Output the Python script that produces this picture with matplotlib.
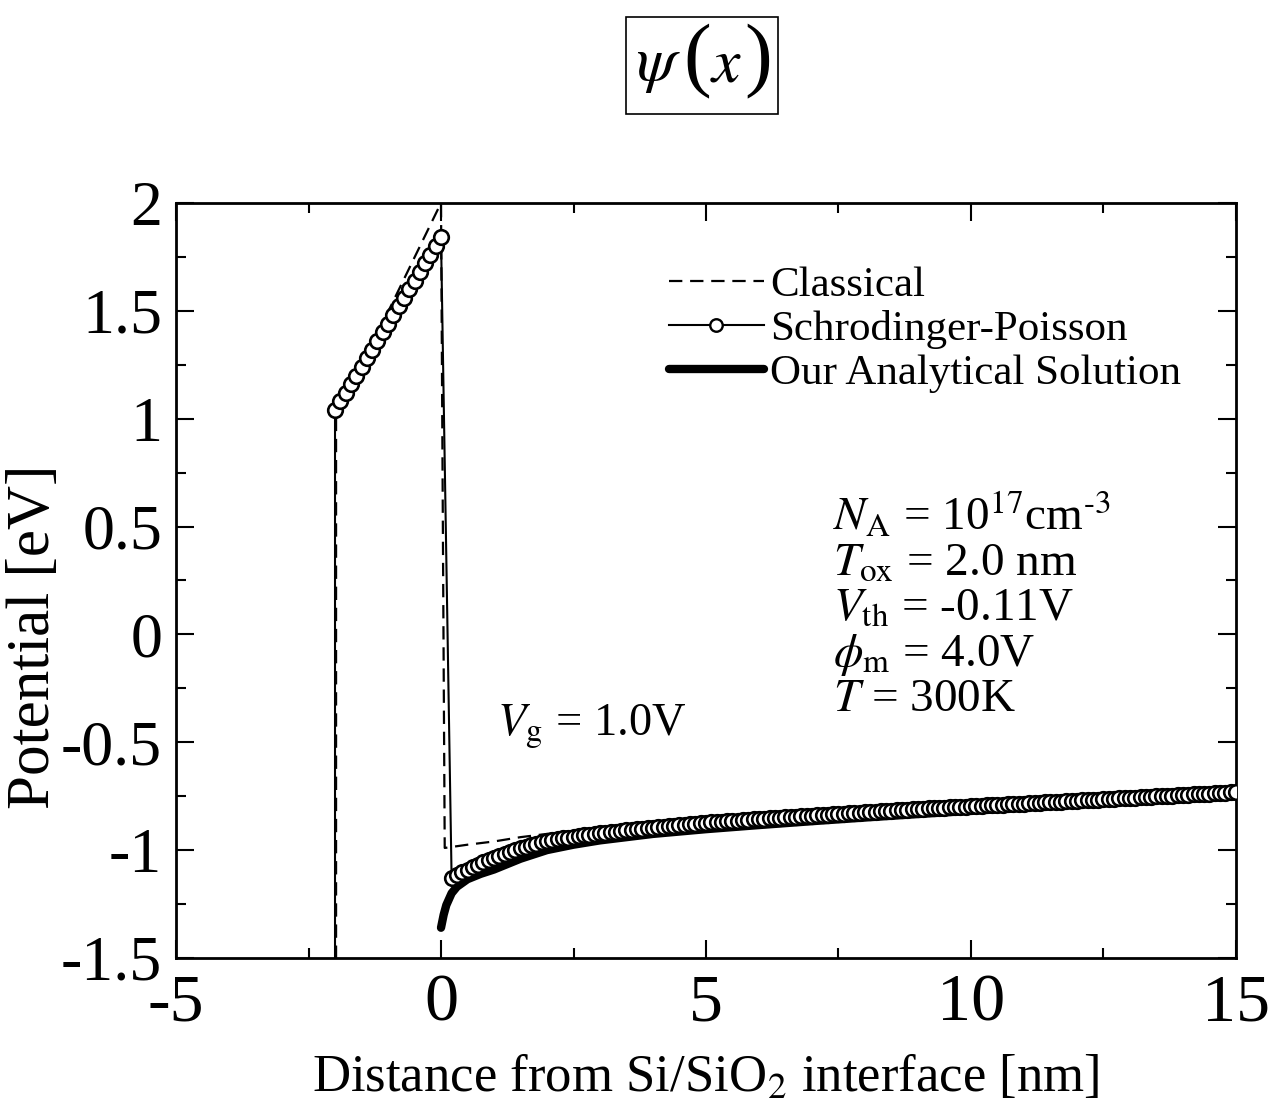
import numpy as np
import matplotlib
matplotlib.use('Agg')
import matplotlib.pyplot as plt
from matplotlib.ticker import MultipleLocator
from matplotlib.lines import Line2D
from matplotlib.patches import Rectangle

plt.rcParams['font.family'] = 'Liberation Serif'
plt.rcParams['mathtext.fontset'] = 'stix'

# Classical (dashed)
cl_x = [-1.98, -1.98, 0.0, 0.07, 0.5, 1.0, 1.5, 2.0, 2.5, 3.0, 4.0, 5.0, 6.0, 8.0, 10.0, 12.0, 15.0]
cl_y = [-1.7, 1.0, 2.0, -0.99, -0.975, -0.96, -0.94, -0.925, -0.912, -0.905, -0.89, -0.87,
        -0.853, -0.822, -0.795, -0.769, -0.731]

# Schrodinger-Poisson: oxide points, then silicon points
sp_ox_x = np.round(np.arange(-2.0, 0.01, 0.1), 1)
sp_ox_y = [1.04, 1.08, 1.12, 1.16, 1.20, 1.24, 1.28, 1.32, 1.36, 1.40, 1.44,
           1.48, 1.52, 1.56, 1.60, 1.64, 1.68, 1.72, 1.76, 1.80, 1.84]
sp_si_x = np.round(np.arange(0.2, 15.05, 0.1), 1)
sp_si_y = [-1.130, -1.115, -1.102, -1.090, -1.078, -1.067, -1.056, -1.045, -1.035,
           -1.026, -1.017, -1.008, -0.999, -0.991, -0.984, -0.977, -0.970, -0.964, -0.958,
           -0.954, -0.950, -0.946, -0.942, -0.938, -0.935, -0.931, -0.928, -0.925, -0.922,
           -0.919, -0.917, -0.914, -0.912, -0.909, -0.907, -0.904, -0.902, -0.899, -0.897,
           -0.895, -0.892, -0.890, -0.888, -0.885, -0.883, -0.881, -0.879, -0.876, -0.874,
           -0.872, -0.870, -0.869, -0.867, -0.865, -0.863, -0.861, -0.860, -0.858, -0.856,
           -0.854, -0.853, -0.851, -0.850, -0.848, -0.846, -0.845, -0.843, -0.842, -0.840,
           -0.838, -0.837, -0.835, -0.834, -0.832, -0.831, -0.829, -0.828, -0.826, -0.825,
           -0.823, -0.822, -0.820, -0.819, -0.817, -0.816, -0.814, -0.813, -0.811, -0.810,
           -0.809, -0.807, -0.806, -0.805, -0.803, -0.802, -0.801, -0.799, -0.798, -0.797,
           -0.796, -0.794, -0.793, -0.792, -0.790, -0.789, -0.788, -0.786, -0.785, -0.784,
           -0.783, -0.781, -0.780, -0.779, -0.777, -0.776, -0.775, -0.773, -0.772, -0.771,
           -0.770, -0.768, -0.767, -0.766, -0.764, -0.763, -0.762, -0.760, -0.759, -0.758,
           -0.757, -0.755, -0.754, -0.753, -0.751, -0.750, -0.749, -0.747, -0.746, -0.745,
           -0.744, -0.742, -0.741, -0.740, -0.738, -0.737, -0.736, -0.734, -0.733, -0.732]

# Our analytical solution (thick)
an_x = [0.0, 0.05, 0.1, 0.2, 0.3, 0.5, 0.75, 1.0, 1.5, 2.0, 2.5, 3.0, 4.0, 5.0, 6.0,
        7.0, 8.0, 9.0, 10.0, 11.0, 12.0, 13.0, 14.0, 15.0]
an_y = [-1.36, -1.30, -1.255, -1.20, -1.17, -1.135, -1.11, -1.09, -1.04, -1.00, -0.975,
        -0.955, -0.925, -0.903, -0.884, -0.866, -0.849, -0.833, -0.818, -0.803, -0.789,
        -0.776, -0.763, -0.751]

params = [r'$N_{\rm A}$ = 10$^{17}$cm$^{\text{-3}}$',
          r'$T_{\rm ox}$ = 2.0 nm',
          r'$V_{\rm th}$ = -0.11V',
          r'$\phi_{\rm m}$ = 4.0V',
          r'$T$ = 300K']

fig = plt.figure(figsize=(12.7, 11.09), dpi=100)
ax = fig.add_axes([0.1386, 0.1362, 0.8346, 0.6808])

h_cl, = ax.plot(cl_x, cl_y, 'k--', lw=1.6, dashes=(6, 3.5), zorder=2)
h_an, = ax.plot(an_x, an_y, 'k-', lw=6, solid_capstyle='round', zorder=3)

sp_x = np.concatenate([[-2.0], sp_ox_x, sp_si_x])
sp_y = np.concatenate([[-1.7], sp_ox_y, sp_si_y])
ax.plot(sp_x, sp_y, 'k-', lw=1.5, marker='o', ms=10.5, mfc='white', mec='k',
        mew=1.9, markevery=slice(1, None), zorder=4)

h_sp = Line2D([], [], color='k', lw=1.5, marker='o', ms=9, mfc='white', mew=1.7)
ax.legend([h_cl, h_sp, h_an], ['Classical', 'Schrodinger-Poisson', 'Our Analytical Solution'],
          loc='upper left', bbox_to_anchor=(0.465, 0.917), frameon=False,
          fontsize=31, handlelength=2.2, handletextpad=0.15, labelspacing=0.12,
          borderpad=0, borderaxespad=0, numpoints=1)

ax.text(1.06, -0.47, r'$V_{\rm g}$ = 1.0V', fontsize=33.5, va='baseline')
for i, s in enumerate(params):
    ax.text(7.4, 0.48 - 0.209 * i, s, fontsize=34, va='baseline')

ax.set_xlim(-5, 15)
ax.set_ylim(-1.5, 2)
ax.xaxis.set_major_locator(MultipleLocator(5))
ax.xaxis.set_minor_locator(MultipleLocator(2.5))
ax.yaxis.set_major_locator(MultipleLocator(0.5))
ax.yaxis.set_minor_locator(MultipleLocator(0.25))
ax.tick_params(which='both', direction='in', top=True, right=True, width=1.5)
ax.tick_params(which='major', length=13, pad=10)
ax.tick_params(which='minor', length=7)
ax.tick_params(axis='x', labelsize=49, pad=11)
ax.tick_params(axis='y', labelsize=46)
ax.xaxis.set_major_formatter(plt.FuncFormatter(lambda v, p: '%g' % v))
ax.yaxis.set_major_formatter(plt.FuncFormatter(lambda v, p: '%g' % v))
for sp in ax.spines.values():
    sp.set_linewidth(2)

ax.set_xlabel(r'Distance from Si/SiO$_2$ interface [nm]', fontsize=38, labelpad=14)
ax.set_ylabel('Potential [eV]', fontsize=44)
ax.yaxis.set_label_coords(-0.108, 0.425)

# boxed psi(x) title, tall thin parentheses like the original
fig.add_artist(Rectangle((626 / 1270, 1 - 114 / 1109), 152 / 1270, 97 / 1109,
                         transform=fig.transFigure, fill=False, ec='k', lw=1.2))
ty = 1 - 66 / 1109
fig.text(658 / 1270, ty, r'$\psi$', fontsize=46, ha='center', va='center')
fig.text(697 / 1270, ty + 0.004, '(', fontsize=60, ha='center', va='center')
fig.text(726 / 1270, ty, r'$x$', fontsize=46, ha='center', va='center')
fig.text(758 / 1270, ty + 0.004, ')', fontsize=60, ha='center', va='center')

fig.savefig('out.png', dpi=100)
